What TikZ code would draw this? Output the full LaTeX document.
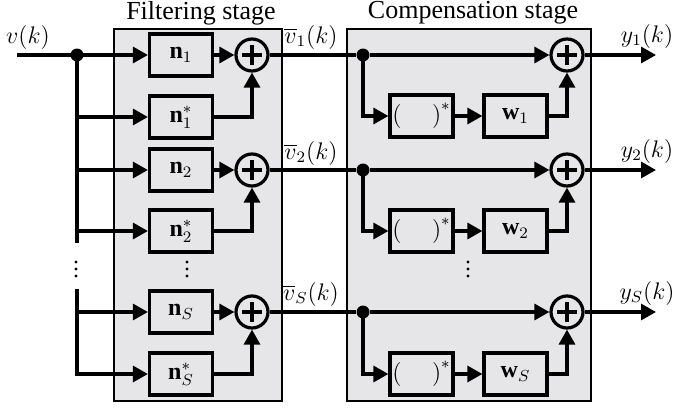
\documentclass[tikz,border=0pt]{standalone}
\usepackage{fontspec}
\setmainfont{Liberation Serif}
\usetikzlibrary{arrows.meta}
\definecolor{stagegray}{RGB}{230,230,232}
\begin{document}
\begin{tikzpicture}[x=0.5pt,y=-0.5pt,
  wire/.style={line width=1.6pt},
  arr/.style={wire,-{Triangle[length=7.5pt,width=8pt]}},
  stagebox/.style={draw,line width=0.8pt,fill=stagegray,inner sep=0pt,minimum width=84pt,minimum height=186pt},
  blk/.style={draw,line width=1.6pt,inner sep=0pt,minimum width=31.5pt,minimum height=21pt,font=\fontsize{12}{14}\selectfont},
  sumnode/.style={circle,draw,line width=1.6pt,inner sep=0pt,minimum size=16pt,
    path picture={\draw[line width=1.6pt]
      ([xshift=-5pt]path picture bounding box.center) -- ([xshift=5pt]path picture bounding box.center)
      ([yshift=-5pt]path picture bounding box.center) -- ([yshift=5pt]path picture bounding box.center);}},
  jdot/.style={circle,fill,inner sep=0pt,minimum size=6.5pt},
  edot/.style={circle,fill,inner sep=0pt,minimum size=1.6pt},
  lbl/.style={font=\fontsize{12}{14}\selectfont,inner sep=0pt},
  ttl/.style={font=\fontsize{13}{15}\selectfont,inner sep=0pt}]
\useasboundingbox (0,0) rectangle (674,407);

% stage backgrounds
\node[stagebox] (fs) at (198,215) {};
\node[stagebox,minimum width=122pt] (cs) at (469,215) {};
\node[ttl] (tf) at (201,13) {Filtering stage};
\node[ttl] (tc) at (473,13) {Compensation stage};

% filtering blocks
\node[blk] (n1) at (181,55) {$\mathbf{n}_{1}$};
\node[blk] (n1s) at (181,117) {$\mathbf{n}_{1}^{*}$};
\node[blk] (n2) at (181,170) {$\mathbf{n}_{2}$};
\node[blk] (n2s) at (181,231) {$\mathbf{n}_{2}^{*}$};
\node[blk] (nS) at (181,312) {$\mathbf{n}_{S}$};
\node[blk] (nSs) at (181,374) {$\mathbf{n}_{S}^{*}$};
\node[sumnode] (s1) at (252,55) {};
\node[sumnode] (s2) at (252,170) {};
\node[sumnode] (sS) at (252,312) {};

% compensation blocks
\node[blk] (cj1) at (421.5,116) {$\big(\quad\;\big)^{*}$};
\node[blk] (w1) at (515.5,116) {$\mathbf{w}_{1}$};
\node[blk] (cj2) at (421.5,231) {$\big(\quad\;\big)^{*}$};
\node[blk] (w2) at (515.5,231) {$\mathbf{w}_{2}$};
\node[blk] (cjS) at (421.5,374) {$\big(\quad\;\big)^{*}$};
\node[blk] (wS) at (515.5,374) {$\mathbf{w}_{S}$};
\node[sumnode] (c1) at (567,55) {};
\node[sumnode] (c2) at (567,170) {};
\node[sumnode] (cS) at (567,312) {};

% junctions
\node[jdot] (j0) at (77,55) {};
\node[jdot] (d1) at (363,55) {};
\node[jdot] (d2) at (363,170) {};
\node[jdot] (dS) at (363,312) {};

% coordinates
\coordinate (in) at (17,55);
\coordinate (b1) at (77,117);
\coordinate (b2) at (77,170);
\coordinate (b3) at (77,231);
\coordinate (b4) at (77,312);
\coordinate (g1) at (77,243);
\coordinate (g2) at (77,289);
\coordinate (o1) at (656,55);
\coordinate (o2) at (656,170);
\coordinate (oS) at (656,312);

% labels
\node[lbl] (lv) at (28,37) {$v(k)$};
\node[lbl] (lv1) at (311,37) {$\overline{v}_{1}(k)$};
\node[lbl] (lv2) at (311,153) {$\overline{v}_{2}(k)$};
\node[lbl] (lvS) at (311,294) {$\overline{v}_{S}(k)$};
\node[lbl] (ly1) at (647,36) {$y_{1}(k)$};
\node[lbl] (ly2) at (647,151) {$y_{2}(k)$};
\node[lbl] (lyS) at (647,293) {$y_{S}(k)$};

% ellipsis dots
\foreach \yy [count=\i] in {262,269,276} {
  \node[edot] (el\i) at (76,\yy) {};
  \node[edot] (em\i) at (187,\yy) {};
  \node[edot] (er\i) at (468,\yy) {};
}

% filtering wiring
\draw[arr] (in) -- (n1);
\draw[wire] (j0.center) -- (g1);
\draw[wire] (g2) -- (b4);
\draw[arr] (b1) -- (n1s);
\draw[arr] (b2) -- (n2);
\draw[arr] (b3) -- (n2s);
\draw[arr] (b4) -- (nS);
\draw[arr] (b4) |- (nSs);
\draw[arr] (n1) -- (s1);
\draw[arr] (n1s) -| (s1);
\draw[arr] (n2) -- (s2);
\draw[arr] (n2s) -| (s2);
\draw[arr] (nS) -- (sS);
\draw[arr] (nSs) -| (sS);

% compensation wiring
\draw[wire] (s1) -- (d1);
\draw[wire] (s2) -- (d2);
\draw[wire] (sS) -- (dS);
\draw[arr] (d1) -- (c1);
\draw[arr] (d2) -- (c2);
\draw[arr] (dS) -- (cS);
\draw[arr] (d1.center) |- (cj1);
\draw[arr] (d2.center) |- (cj2);
\draw[arr] (dS.center) |- (cjS);
\draw[arr] (cj1) -- (w1);
\draw[arr] (cj2) -- (w2);
\draw[arr] (cjS) -- (wS);
\draw[arr] (w1) -| (c1);
\draw[arr] (w2) -| (c2);
\draw[arr] (wS) -| (cS);
\draw[arr] (c1) -- (o1);
\draw[arr] (c2) -- (o2);
\draw[arr] (cS) -- (oS);
\end{tikzpicture}
\end{document}
